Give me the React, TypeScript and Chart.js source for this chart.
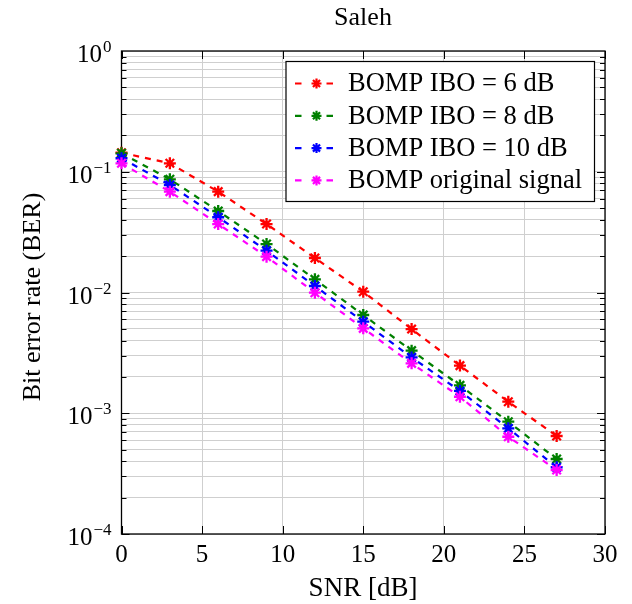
import React, { useEffect, useRef } from "react";
import { Chart, registerables } from "chart.js";

Chart.register(...registerables);

const snr = [0, 3, 6, 9, 12, 15, 18, 21, 24, 27];
const berIbo6 = [0.1438, 0.1175, 0.0684, 0.0369, 0.0193, 0.01015, 0.00498, 0.00248, 0.001246, 0.000648];
const berIbo8 = [0.1422, 0.0866, 0.0473, 0.0252, 0.01286, 0.00651, 0.0033, 0.0017, 0.000851, 0.000418];
const berIbo10 = [0.1293, 0.0777, 0.042, 0.0222, 0.01132, 0.00573, 0.0029, 0.00153, 0.00075, 0.000357];
const berOriginal = [0.1175, 0.0684, 0.0369, 0.0198, 0.00996, 0.00505, 0.00259, 0.00137, 0.000639, 0.000339];

const seriesLabels = ["BOMP IBO = 6 dB", "BOMP IBO = 8 dB", "BOMP IBO = 10 dB", "BOMP original signal"];
const seriesColors = ["#ff0000", "#008000", "#0000ff", "#ff00ff"];
const seriesValues = [berIbo6, berIbo8, berIbo10, berOriginal];

const xTicks = [0, 5, 10, 15, 20, 25, 30];
const yDecades = [-4, -3, -2, -1, 0];

const titleText = "Saleh";
const xTitle = "SNR [dB]";
const yTitle = "Bit error rate (BER)";

const FONT = '"Liberation Serif", "Times New Roman", serif';

const decorPlugin = {
  id: "decor",
  beforeDatasetsDraw(chart: any) {
    const { ctx, chartArea: a, scales } = chart;
    const x = scales.x;
    const y = scales.y;
    ctx.save();
    ctx.strokeStyle = "#000";
    ctx.lineWidth = 1;
    const seg = (x1: number, y1: number, x2: number, y2: number) => {
      ctx.beginPath();
      ctx.moveTo(x1, y1);
      ctx.lineTo(x2, y2);
      ctx.stroke();
    };
    for (let d = -4; d < 0; d++) {
      for (let m = 1; m <= 9; m++) {
        const v = m * Math.pow(10, d);
        const py = Math.round(y.getPixelForValue(v)) + 0.5;
        const len = m === 1 ? 8 : 5;
        seg(a.left, py, a.left + len, py);
        seg(a.right, py, a.right - len, py);
      }
    }
    for (const t of xTicks) {
      const px = Math.round(x.getPixelForValue(t)) + 0.5;
      seg(px, a.bottom, px, a.bottom - 8);
      seg(px, a.top, px, a.top + 8);
    }
    ctx.lineWidth = 1.3;
    ctx.strokeRect(a.left, a.top, a.right - a.left, a.bottom - a.top);
    ctx.restore();
  },
  afterDraw(chart: any) {
    const { ctx, chartArea: a, scales } = chart;
    const x = scales.x;
    const y = scales.y;
    ctx.save();
    ctx.fillStyle = "#000";

    // x tick labels
    ctx.font = `25px ${FONT}`;
    ctx.textAlign = "center";
    ctx.textBaseline = "alphabetic";
    for (const t of xTicks) {
      ctx.fillText(String(t), x.getPixelForValue(t), a.bottom + 28);
    }

    // y tick labels with exponent
    for (const d of yDecades) {
      const py = y.getPixelForValue(Math.pow(10, d));
      const exp = d === 0 ? "0" : "\u2212" + String(-d);
      ctx.textAlign = "right";
      ctx.font = `17px ${FONT}`;
      const rightX = a.left - 10;
      ctx.fillText(exp, rightX, py + 1);
      const w = ctx.measureText(exp).width;
      ctx.font = `25px ${FONT}`;
      ctx.fillText("10", rightX - w - 1, py + 11);
    }

    // title
    ctx.textAlign = "center";
    ctx.font = `26px ${FONT}`;
    ctx.fillText(titleText, 363, 25);

    // x title
    ctx.font = `27px ${FONT}`;
    ctx.fillText(xTitle, 363, 596);

    // y title
    ctx.save();
    ctx.translate(40, 297);
    ctx.rotate(-Math.PI / 2);
    ctx.textAlign = "center";
    ctx.font = `26px ${FONT}`;
    ctx.fillText(yTitle, 0, 0);
    ctx.restore();

    // legend
    const lx = 286, ly = 61.5, lw = 308.5, lh = 140;
    ctx.fillStyle = "#fff";
    ctx.fillRect(lx, ly, lw, lh);
    ctx.strokeStyle = "#000";
    ctx.lineWidth = 1.2;
    ctx.strokeRect(lx, ly, lw, lh);
    const ds = chart.data.datasets;
    for (let i = 0; i < seriesLabels.length; i++) {
      const cy = 83.5 + i * 32.3;
      const col = seriesColors[i];
      ctx.strokeStyle = col;
      ctx.lineWidth = 2.2;
      ctx.beginPath();
      ctx.moveTo(295, cy);
      ctx.lineTo(301.5, cy);
      ctx.moveTo(326.5, cy);
      ctx.lineTo(333, cy);
      ctx.stroke();
      const r = 5;
      ctx.beginPath();
      for (let k = 0; k < 4; k++) {
        const ang = (k * Math.PI) / 4;
        ctx.moveTo(316.5 - r * Math.cos(ang), cy - r * Math.sin(ang));
        ctx.lineTo(316.5 + r * Math.cos(ang), cy + r * Math.sin(ang));
      }
      ctx.stroke();
      ctx.fillStyle = "#000";
      ctx.textAlign = "left";
      ctx.textBaseline = "middle";
      ctx.font = `26.5px ${FONT}`;
      ctx.fillText(ds[i].label, 348, cy + 1);
    }
    ctx.restore();
  },
};

export default function App() {
  const canvasRef = useRef<HTMLCanvasElement | null>(null);

  useEffect(() => {
    const canvas = canvasRef.current;
    if (!canvas) return;
    const datasets = seriesLabels.map((label, i) => ({
      label,
      data: snr.map((s, j) => ({ x: s, y: seriesValues[i][j] })),
      borderColor: seriesColors[i],
      backgroundColor: seriesColors[i],
      borderWidth: 2.2,
      borderDash: [6, 6],
      pointStyle: "star",
      pointRadius: 6,
      pointBorderWidth: 2.3,
      pointBorderColor: seriesColors[i],
      tension: 0,
      fill: false,
      clip: false,
      order: seriesLabels.length - i,
    }));
    const chart = new Chart(canvas, {
      type: "line",
      data: { datasets },
      options: {
        responsive: false,
        animation: false,
        devicePixelRatio: 1,
        layout: { padding: { top: 51, right: 27, left: 0, bottom: 0 } },
        plugins: {
          legend: { display: false },
          tooltip: { enabled: false },
          title: { display: false },
        },
        scales: {
          x: {
            type: "linear",
            min: 0,
            max: 30,
            ticks: { display: false, stepSize: 5 },
            grid: { color: "#cfcfcf", lineWidth: 1, drawTicks: false },
            border: { display: false },
            afterFit: (s: any) => {
              s.height = 70;
            },
          },
          y: {
            type: "logarithmic",
            min: 1e-4,
            max: 1,
            ticks: { display: false },
            grid: { color: "#cfcfcf", lineWidth: 1, drawTicks: false },
            border: { display: false },
            afterBuildTicks: (s: any) => {
              const t: any[] = [];
              for (const d of yDecades) {
                for (let m = 1; m <= 9; m++) {
                  const v = m * Math.pow(10, d);
                  if (v <= 1.0000001) t.push({ value: v });
                }
              }
              s.ticks = t;
            },
            afterFit: (s: any) => {
              s.width = 121.5;
            },
          },
        },
      },
      plugins: [decorPlugin],
    } as any);
    return () => chart.destroy();
  }, []);

  return (
    <div style={{ position: "fixed", left: 0, top: 0, width: 632, height: 604, background: "#fff" }}>
      <canvas ref={canvasRef} width={632} height={604} style={{ display: "block" }} />
    </div>
  );
}
